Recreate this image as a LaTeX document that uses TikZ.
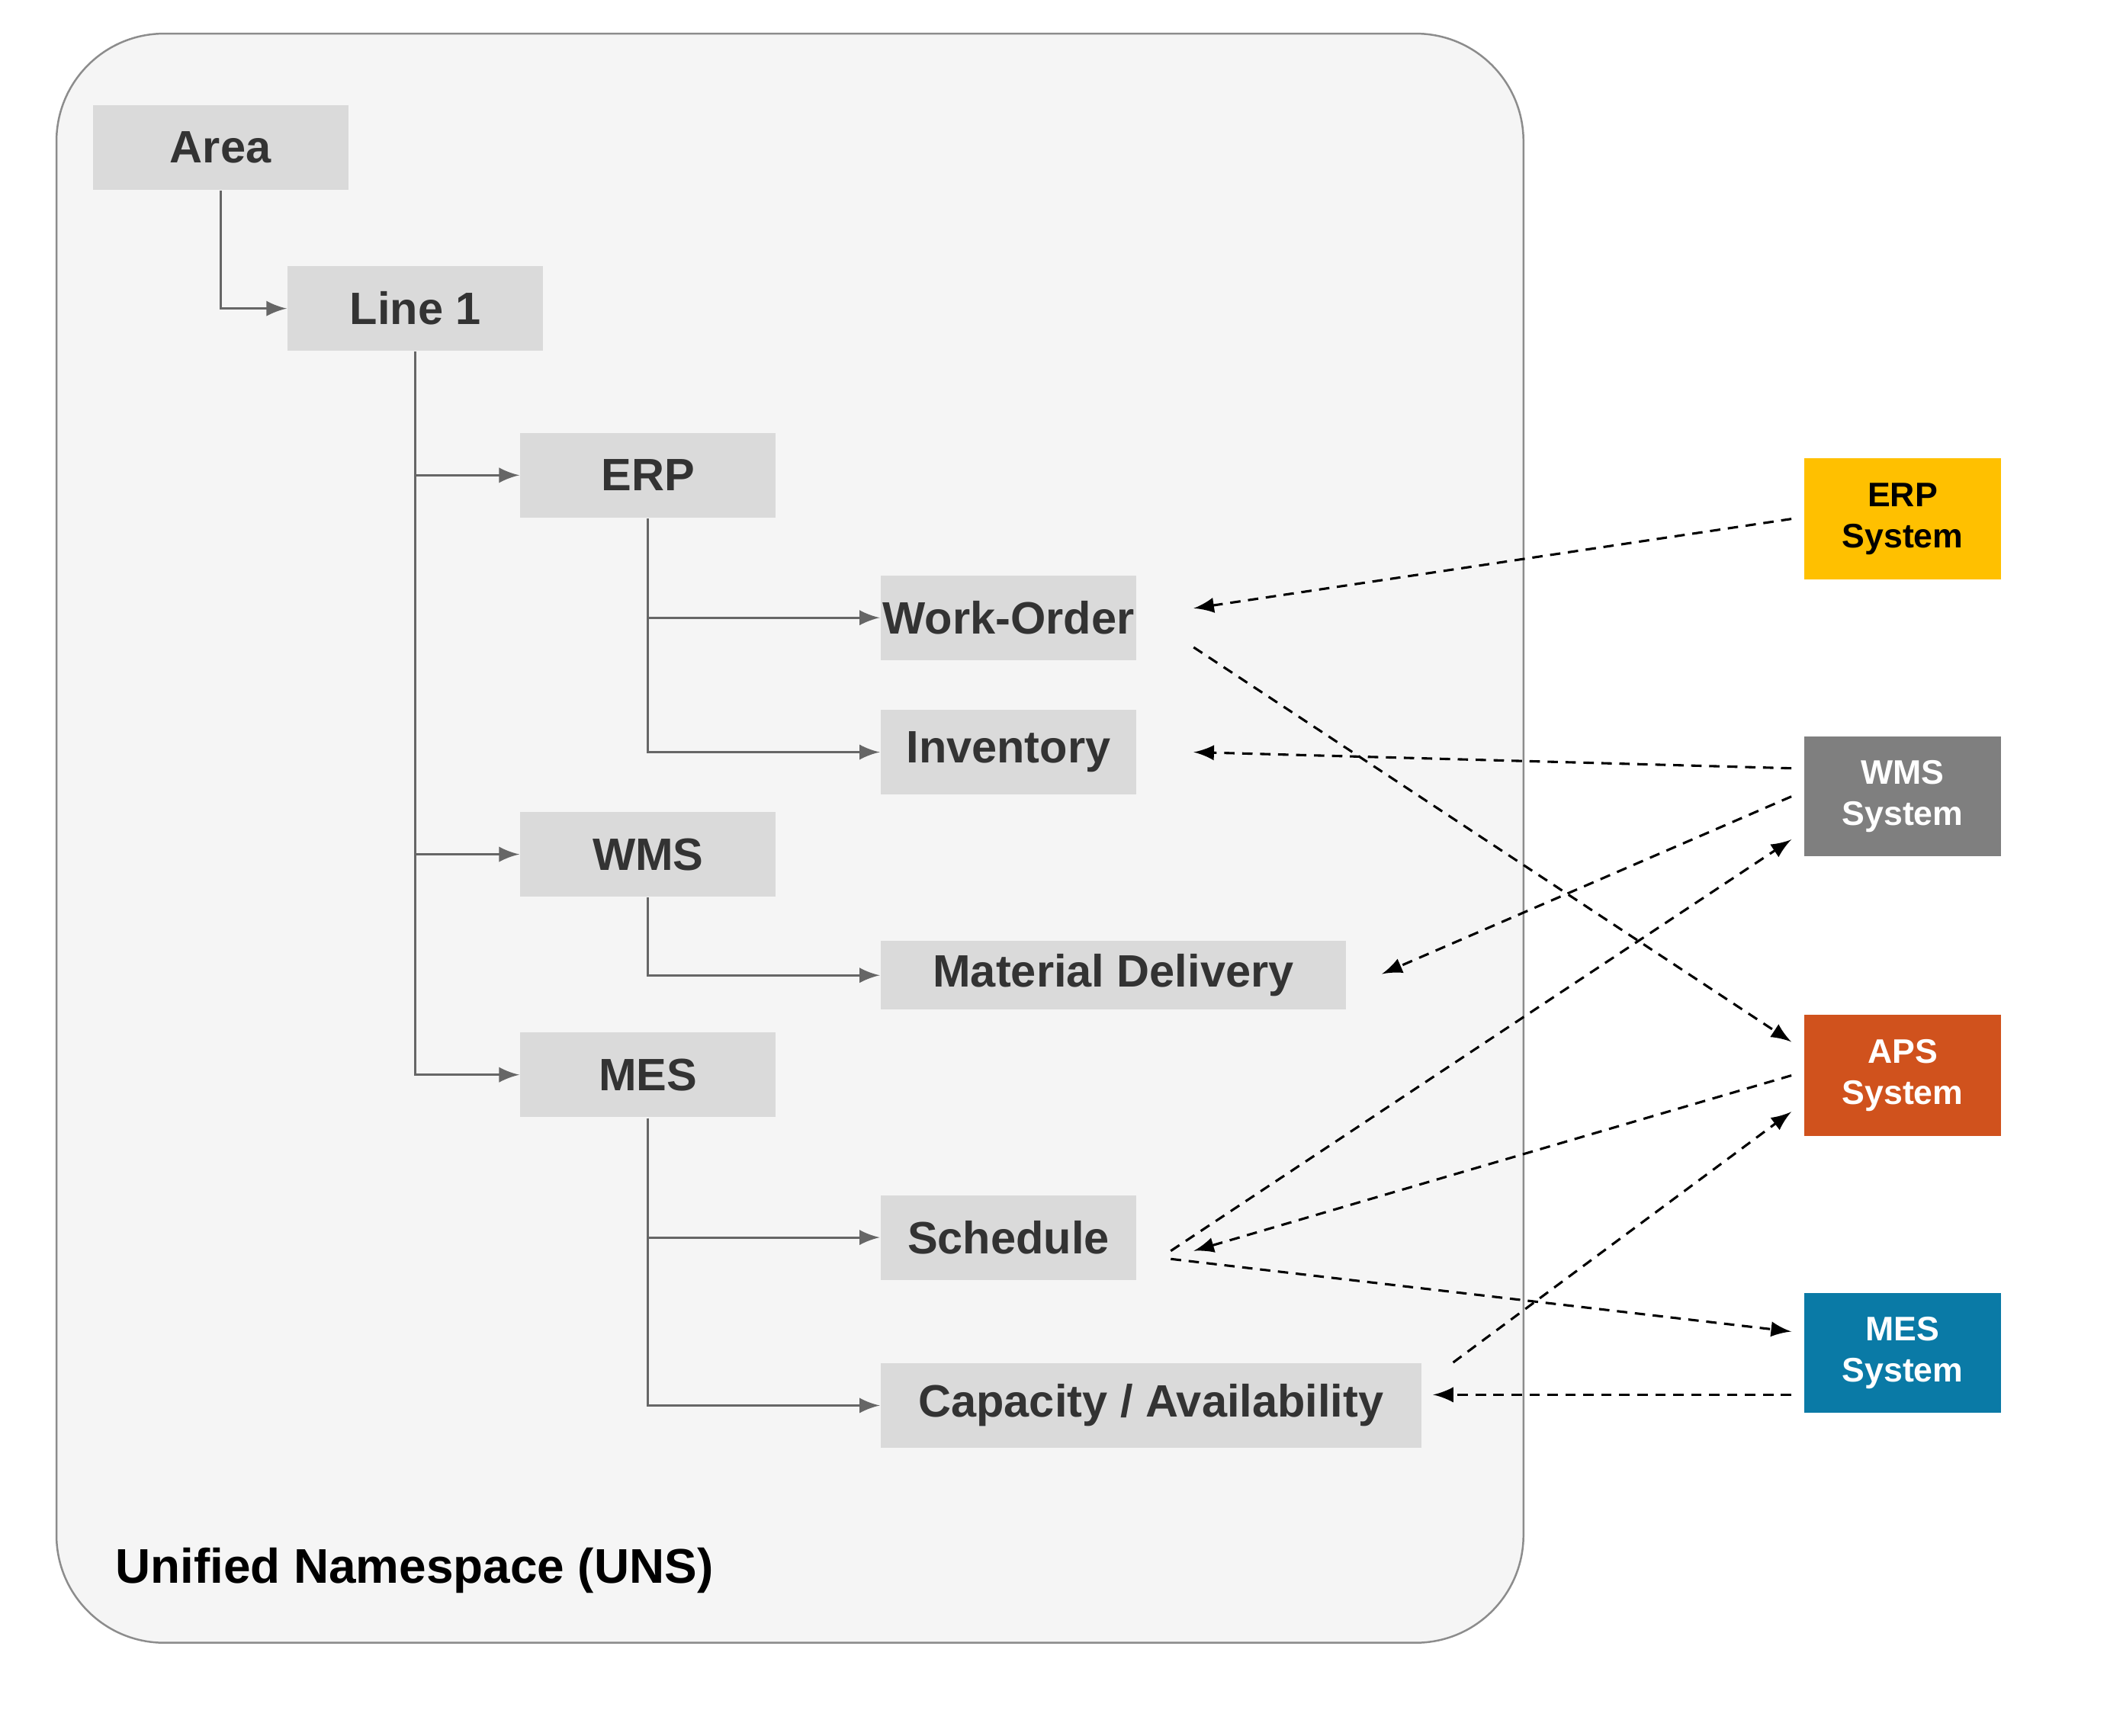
\documentclass[tikz,border=0pt]{standalone}
\usepackage{fontspec}
\setmainfont{Liberation Sans}
\usetikzlibrary{calc}
\definecolor{bx}{HTML}{DADADA}
\definecolor{tx}{HTML}{333333}
\definecolor{ln}{HTML}{666666}
\definecolor{erpc}{HTML}{FFC000}
\definecolor{wmsc}{HTML}{7F7F7F}
\definecolor{apsc}{HTML}{D0521D}
\definecolor{mesc}{HTML}{0A7AA6}
\begin{document}
\begin{tikzpicture}[x=0.01cm,y=-0.01cm,
  box/.style={fill=bx,draw=none,text=tx,font=\fontsize{9.6}{11}\selectfont\bfseries,inner sep=0pt},
  sys/.style={draw=none,text=white,font=\fontsize{7.2}{8.7}\selectfont\bfseries,align=center,inner sep=0pt},
  tree/.style={draw=ln,line width=0.5pt,-latex},
  dl/.style={draw=black,line width=0.5pt,dashed,dash pattern=on 2.2pt off 1.6pt,-latex}]
\useasboundingbox (0,0) rectangle (1567,1291);
\draw[fill=black!4,draw=black!45,rounded corners=0.8cm] (42,25) rectangle (1133,1222);
\newcommand\bx[5]{\node[box,minimum width=#4*0.01cm-#2*0.01cm,minimum height=#5*0.01cm-#3*0.01cm] (#1) at ({(#2+#4)/2},{(#3+#5)/2}) {};}
\bx{area}{69}{78}{259}{141}\node[box,fill=none] at (area) {Area};
\bx{line}{214}{198}{404}{261}\node[box,fill=none] at (line) {Line 1};
\bx{erp}{387}{322}{577}{385}\node[box,fill=none] at (erp) {ERP};
\bx{wo}{655}{428}{845}{491}\node[box,fill=none] at (wo) {Work-Order};
\bx{inv}{655}{528}{845}{591}\node[box,fill=none] at (inv) {Inventory};
\bx{wms}{387}{604}{577}{667}\node[box,fill=none] at (wms) {WMS};
\bx{md}{655}{700}{1001}{751}\node[box,fill=none] at (md) {Material Delivery};
\bx{mes}{387}{768}{577}{831}\node[box,fill=none] at (mes) {MES};
\bx{sch}{655}{889}{845}{952}\node[box,fill=none] at (sch) {Schedule};
\bx{cap}{655}{1014}{1057}{1077}\node[box,fill=none] at (cap) {Capacity / Availability};
\node[sys,fill=erpc,text=black,minimum width=1.46cm,minimum height=0.9cm] (S1) at (1415,386) {ERP\\System};
\node[sys,fill=wmsc,minimum width=1.46cm,minimum height=0.89cm] (S2) at (1415,592.5) {WMS\\System};
\node[sys,fill=apsc,minimum width=1.46cm,minimum height=0.9cm] (S3) at (1415,800) {APS\\System};
\node[sys,fill=mesc,minimum width=1.46cm,minimum height=0.89cm] (S4) at (1415,1006.5) {MES\\System};
\node[anchor=west,inner sep=0pt,font=\fontsize{10.3}{12}\selectfont\bfseries] (uns) at (85,1168) {Unified Namespace (UNS)};
% tree
\draw[tree] (area.south) |- (line.west);
\draw[tree] (line.south) |- (erp.west);
\draw[tree] (line.south) |- (wms.west);
\draw[tree] (line.south) |- (mes.west);
\draw[tree] (erp.south) |- (wo.west);
\draw[tree] (erp.south) |- (inv.west);
\draw[tree] (wms.south) |- (md.west);
\draw[tree] (mes.south) |- (sch.west);
\draw[tree] (mes.south) |- (cap.west);
% dashed
\draw[dl] ($(S1.west)+(-9,0)$) -- ($(wo.east)+(42,-7)$);
\draw[dl] ($(wo.east)+(42,22)$) -- ($(S3.west)+(-9,-25)$);
\draw[dl] ($(S2.west)+(-9,-21)$) -- ($(inv.east)+(42,0)$);
\draw[dl] ($(S2.west)+(-9,0)$) -- ($(md.east)+(26,-1)$);
\draw[dl] ($(sch.east)+(25,10)$) -- ($(S2.west)+(-9,32)$);
\draw[dl] ($(S3.west)+(-9,0)$) -- ($(sch.east)+(42,10)$);
\draw[dl] ($(sch.east)+(25,16)$) -- ($(S4.west)+(-9,-16)$);
\draw[dl] ($(cap.east)+(23,-32)$) -- ($(S3.west)+(-9,27)$);
\draw[dl] ($(S4.west)+(-9,31)$) -- ($(cap.east)+(8,-8)$);
\end{tikzpicture}
\end{document}
